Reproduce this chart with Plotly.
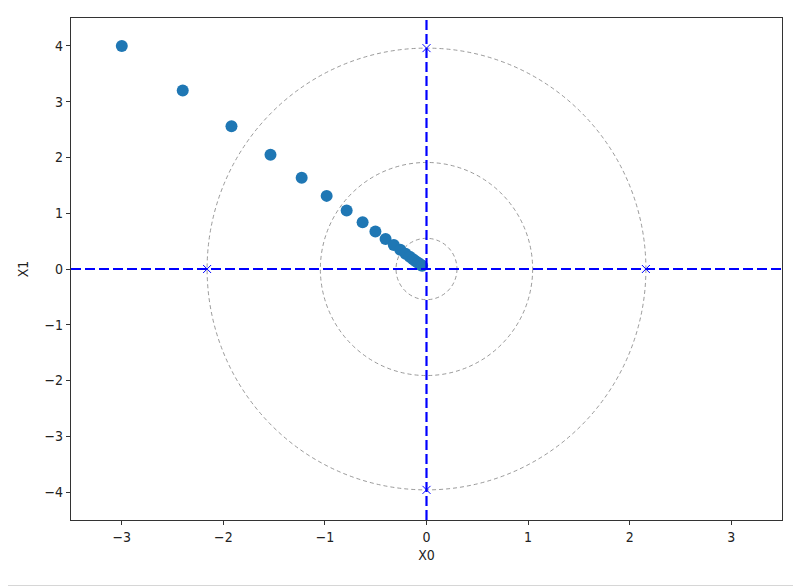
import plotly.graph_objects as go

# gradient descent path
path_x0 = [-3.0, -2.4, -1.92, -1.536, -1.229, -0.983, -0.786, -0.629, -0.503, -0.403,
           -0.322, -0.258, -0.206, -0.165, -0.132, -0.106, -0.084, -0.068, -0.054, -0.043]
path_x1 = [4.0, 3.2, 2.56, 2.048, 1.638, 1.311, 1.049, 0.839, 0.671, 0.537,
           0.429, 0.344, 0.275, 0.22, 0.176, 0.141, 0.113, 0.09, 0.072, 0.058]

# dashed contour rings (half widths in x0 and x1 units)
ring_rx = [2.16, 1.045, 0.30]
ring_ry = [3.96, 1.91, 0.55]

# cross markers
cross_x = [2.16, -2.16, 0.0, 0.0]
cross_y = [0.0, 0.0, 3.96, -3.96]

x_ticks = [-3, -2, -1, 0, 1, 2, 3]
y_ticks = [-4, -3, -2, -1, 0, 1, 2, 3, 4]

FONT = "DejaVu Sans Condensed, DejaVu Sans"

fig = go.Figure()

shapes = []
for rx, ry in zip(ring_rx, ring_ry):
    shapes.append(dict(type="circle", xref="x", yref="y", x0=-rx, x1=rx, y0=-ry, y1=ry,
                       line=dict(color="#808080", width=0.8, dash="4px,3px"), layer="below"))
# bottom border line of the picture
shapes.append(dict(type="line", xref="paper", yref="paper", x0=-63/711, x1=1 + 30/711,
                   y0=-66/502, y1=-66/502, line=dict(color="#c8c8c8", width=1.5)))

fig.add_trace(go.Scatter(x=path_x0, y=path_x1, mode="markers",
                         marker=dict(color="#1f77b4", size=12, line=dict(width=0)),
                         showlegend=False, hoverinfo="skip"))

fig.add_trace(go.Scatter(x=[-3.5, 3.5], y=[0, 0], mode="lines",
                         line=dict(color="blue", width=2.2, dash="10px,4px"),
                         showlegend=False, hoverinfo="skip"))
fig.add_trace(go.Scatter(x=[0, 0], y=[-4.5, 4.5], mode="lines",
                         line=dict(color="blue", width=2.2, dash="10px,4px"),
                         showlegend=False, hoverinfo="skip"))

fig.add_trace(go.Scatter(x=cross_x, y=cross_y, mode="markers",
                         marker=dict(symbol="x-thin", size=8, line=dict(color="blue", width=1)),
                         showlegend=False, hoverinfo="skip"))

axis_common = dict(showgrid=False, zeroline=False, showline=True, linecolor="#333333",
                   linewidth=1.3, mirror=True, ticks="outside", ticklen=4, tickwidth=1,
                   tickcolor="#333333", tickfont=dict(family=FONT, size=14, color="#222222"))

fig.update_layout(
    width=801, height=586,
    margin=dict(l=63, r=27, t=10, b=74),
    paper_bgcolor="white", plot_bgcolor="white",
    shapes=shapes,
    xaxis=dict(range=[-3.5, 3.5], tickvals=x_ticks, ticktext=[str(v).replace("-", "−") for v in x_ticks],
               title=dict(text="X0", font=dict(family=FONT, size=14, color="#222222"), standoff=6),
               **axis_common),
    yaxis=dict(range=[-4.5, 4.5], tickvals=y_ticks, ticktext=[str(v).replace("-", "−") for v in y_ticks],
               title=dict(text="X1", font=dict(family=FONT, size=14, color="#222222"), standoff=12),
               **axis_common),
)

fig.write_html("out.html")
